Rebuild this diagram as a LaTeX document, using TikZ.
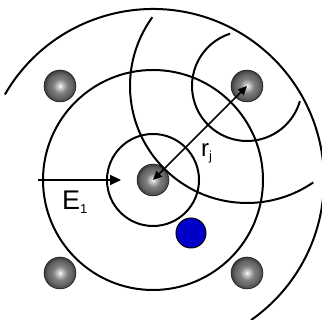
\documentclass[tikz,border=0pt]{standalone}
\usepackage{fontspec}
\setmainfont{Liberation Sans}
\usepackage{tikz}
\usetikzlibrary{arrows.meta}

\definecolor{chargeblue}{RGB}{0,0,200}
\pgfdeclareradialshading{atomball}{\pgfpoint{0bp}{0bp}}{%
  color(0bp)=(white); color(3bp)=(gray!35); color(11bp)=(gray);
  color(20bp)=(gray!75!black); color(25bp)=(gray!45!black); color(50bp)=(gray!45!black)}

\begin{document}
\begin{tikzpicture}[x=1pt,y=1pt,every node/.style={font=\fontsize{27}{30}\selectfont,inner sep=0pt},
  atom/.style={circle,minimum size=32pt,inner sep=0pt,shading=atomball,draw=gray!20!black,line width=0.5pt},
  wave/.style={line width=2pt},
  arr/.style={line width=2pt,-{Triangle[length=11pt,width=10pt]}}]
  \useasboundingbox (0,0) rectangle (322,320);
  % atoms of the lattice
  \node[atom] (c)  at (153,140) {};
  \node[atom] (tl) at (60,234) {};
  \node[atom] (tr) at (247,234) {};
  \node[atom] (bl) at (60,47) {};
  \node[atom] (br) at (247,47) {};
  \node[circle,minimum size=30pt,inner sep=0pt,fill=chargeblue,draw=black,line width=1pt] (q) at (191,87) {};
  % wave fronts round the centre atom
  \draw[wave] (c.center) circle[radius=46];
  \draw[wave] (c.center) circle[radius=110];
  \draw[wave] (c.center) ++(150:171) arc[start angle=150,end angle=-55,radius=171];
  % wave fronts round the scattering atom
  \draw[wave] (tr.center) ++(108:55) arc[start angle=108,end angle=344,radius=55];
  \draw[wave] (tr.center) ++(144:117) arc[start angle=144,end angle=304.5,radius=117];
  % incoming field and distance
  \coordinate (e0) at (38,140);
  \coordinate (e1) at (121,140);
  \draw[arr] (e0) -- (e1);
  \node[anchor=base west] (elab) at (62,110) {E\raisebox{-4pt}{\fontsize{13}{14}\selectfont 1}};
  \draw[line width=1.6pt,{Triangle[length=9pt,width=8pt]}-{Triangle[length=9pt,width=8pt]}] (c.center) -- (tr.center);
  \node[anchor=base west,font=\fontsize{24}{26}\selectfont] (rlab) at (201,163) {r\raisebox{-4pt}{\fontsize{13}{14}\selectfont j}};
\end{tikzpicture}
\end{document}
